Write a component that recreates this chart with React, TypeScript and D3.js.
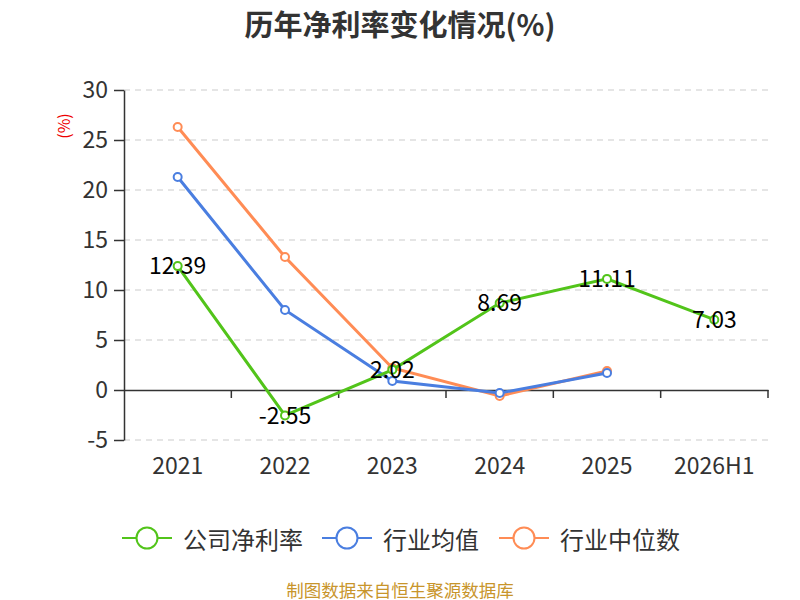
import React, { useEffect, useRef } from 'react';
import * as d3 from 'd3';

const categories = ['2021', '2022', '2023', '2024', '2025', '2026H1'];
const companyValues: (number | null)[] = [12.39, -2.55, 2.02, 8.69, 11.11, 7.03];
const industryMean: (number | null)[] = [21.3, 8.0, 0.9, -0.3, 1.7, null];
const industryMedian: (number | null)[] = [26.3, 13.3, 2.2, -0.6, 1.9, null];
const yTicks = [-5, 0, 5, 10, 15, 20, 25, 30];

const series = [
  { name: '公司净利率', values: companyValues, color: '#52c41a' },
  { name: '行业均值', values: industryMean, color: '#4a7ee0' },
  { name: '行业中位数', values: industryMedian, color: '#ff8c55' },
];

const FONT = '"Noto Sans CJK SC", "Noto Sans", sans-serif';

export default function App() {
  const svgRef = useRef<SVGSVGElement>(null);
  const width = 800;
  const height = 600;
  const margin = { top: 90, right: 32, bottom: 160, left: 124 };

  useEffect(() => {
    if (!svgRef.current) return;
    const svg = d3.select(svgRef.current);
    svg.selectAll('*').remove();

    const innerWidth = width - margin.left - margin.right;
    const innerHeight = height - margin.top - margin.bottom;

    const x = d3.scaleBand().domain(categories).range([0, innerWidth]);
    const y = d3.scaleLinear().domain([-5, 30]).range([innerHeight, 0]);

    // Title
    svg.append('text')
      .attr('x', width / 2)
      .attr('y', 23)
      .attr('dominant-baseline', 'central')
      .attr('text-anchor', 'middle')
      .style('font-family', FONT)
      .style('font-size', '29px')
      .style('font-weight', 'bold')
      .style('fill', '#333')
      .text('历年净利率变化情况(%)');

    // Y unit label
    svg.append('text')
      .attr('transform', `translate(63, 126) rotate(-90)`)
      .attr('text-anchor', 'middle')
      .attr('dominant-baseline', 'central')
      .style('font-family', FONT)
      .style('font-size', '16px')
      .style('fill', '#e00')
      .text('(%)');

    const g = svg.append('g').attr('transform', `translate(${margin.left}, ${margin.top})`);

    // Grid lines
    g.selectAll('.grid')
      .data(yTicks.filter(t => t !== 0))
      .enter().append('line')
      .attr('x1', 0)
      .attr('x2', innerWidth)
      .attr('y1', d => y(d))
      .attr('y2', d => y(d))
      .attr('stroke', '#ccc')
      .attr('stroke-width', 1.2)
      .attr('stroke-dasharray', '6,5');

    // Y axis
    const yAxis = g.append('g')
      .call(d3.axisLeft(y).tickValues(yTicks).tickFormat(d => String(d)).tickSize(10).tickSizeOuter(0).tickPadding(6));
    yAxis.selectAll('text')
      .style('font-family', FONT)
      .style('font-size', '23px')
      .style('fill', '#333');
    yAxis.selectAll('.domain, .tick line').style('stroke', '#333').style('stroke-width', '1.5px');

    // X axis at zero
    const xAxis = g.append('g')
      .attr('transform', `translate(0, ${y(0)})`)
      .call(d3.axisBottom(x).tickSize(0).tickSizeOuter(0).tickPadding(0));
    xAxis.selectAll('.tick text').remove();
    xAxis.select('.domain').style('stroke', '#333').style('stroke-width', '1.5px');
    xAxis.selectAll('.band-tick')
      .data(categories)
      .enter().append('line')
      .attr('x1', d => (x(d) || 0) + x.bandwidth())
      .attr('x2', d => (x(d) || 0) + x.bandwidth())
      .attr('y1', 0)
      .attr('y2', 8)
      .attr('stroke', '#333')
      .attr('stroke-width', 1.5);

    // Category labels below plot
    g.selectAll('.cat')
      .data(categories)
      .enter().append('text')
      .attr('x', d => (x(d) || 0) + x.bandwidth() / 2)
      .attr('y', innerHeight + 34)
      .attr('text-anchor', 'middle')
      .style('font-family', FONT)
      .style('font-size', '23px')
      .style('fill', '#333')
      .text(d => d);

    const cx = (i: number) => (x(categories[i]) || 0) + x.bandwidth() / 2;

    // Lines: median and mean first, company on top
    [series[2], series[1], series[0]].forEach(s => {
      const pts = s.values
        .map((v, i) => ({ v, i }))
        .filter(p => p.v !== null) as { v: number; i: number }[];
      const line = d3.line<{ v: number; i: number }>()
        .x(p => cx(p.i))
        .y(p => y(p.v));
      g.append('path')
        .datum(pts)
        .attr('d', line)
        .attr('fill', 'none')
        .attr('stroke', s.color)
        .attr('stroke-width', 3);
      g.selectAll(null)
        .data(pts)
        .enter().append('circle')
        .attr('cx', p => cx(p.i))
        .attr('cy', p => y(p.v))
        .attr('r', 4)
        .attr('fill', '#fff')
        .attr('stroke', s.color)
        .attr('stroke-width', 2);
    });

    // Data labels for company
    const labelPts = companyValues.map((v, i) => ({ v, i })).filter(p => p.v !== null) as { v: number; i: number }[];
    g.selectAll('.dl')
      .data(labelPts)
      .enter().append('text')
      .attr('x', p => cx(p.i))
      .attr('y', p => y(p.v) - 2)
      .attr('dominant-baseline', 'central')
      .attr('text-anchor', 'middle')
      .style('font-family', FONT)
      .style('font-size', '23px')
      .style('fill', '#000')
      .text(p => p.v.toFixed(2));

    // Legend
    const legendX = [122, 322, 499];
    const lg = svg.append('g').attr('transform', 'translate(0, 538)');
    series.forEach((s, k) => {
      const it = lg.append('g').attr('transform', `translate(${legendX[k]}, 0)`);
      it.append('line')
        .attr('x1', 0).attr('x2', 50).attr('y1', 0).attr('y2', 0)
        .attr('stroke', s.color).attr('stroke-width', 2);
      it.append('circle')
        .attr('cx', 25).attr('cy', 0).attr('r', 10.5)
        .attr('fill', '#fff').attr('stroke', s.color).attr('stroke-width', 2);
      it.append('text')
        .attr('x', 61).attr('y', 0)
        .attr('dominant-baseline', 'central')
        .style('font-family', FONT)
        .style('font-size', '24px')
        .style('fill', '#333')
        .text(s.name);
    });

    // Source
    svg.append('text')
      .attr('x', width / 2)
      .attr('y', 589)
      .attr('dominant-baseline', 'central')
      .attr('text-anchor', 'middle')
      .style('font-family', FONT)
      .style('font-size', '17.5px')
      .style('fill', '#c8952b')
      .text('制图数据来自恒生聚源数据库');
  }, []);

  return (
    <svg
      ref={svgRef}
      width={width}
      height={height}
      viewBox={`0 0 ${width} ${height}`}
      style={{ position: 'absolute', left: 0, top: 0, background: '#fff' }}
    />
  );
}
